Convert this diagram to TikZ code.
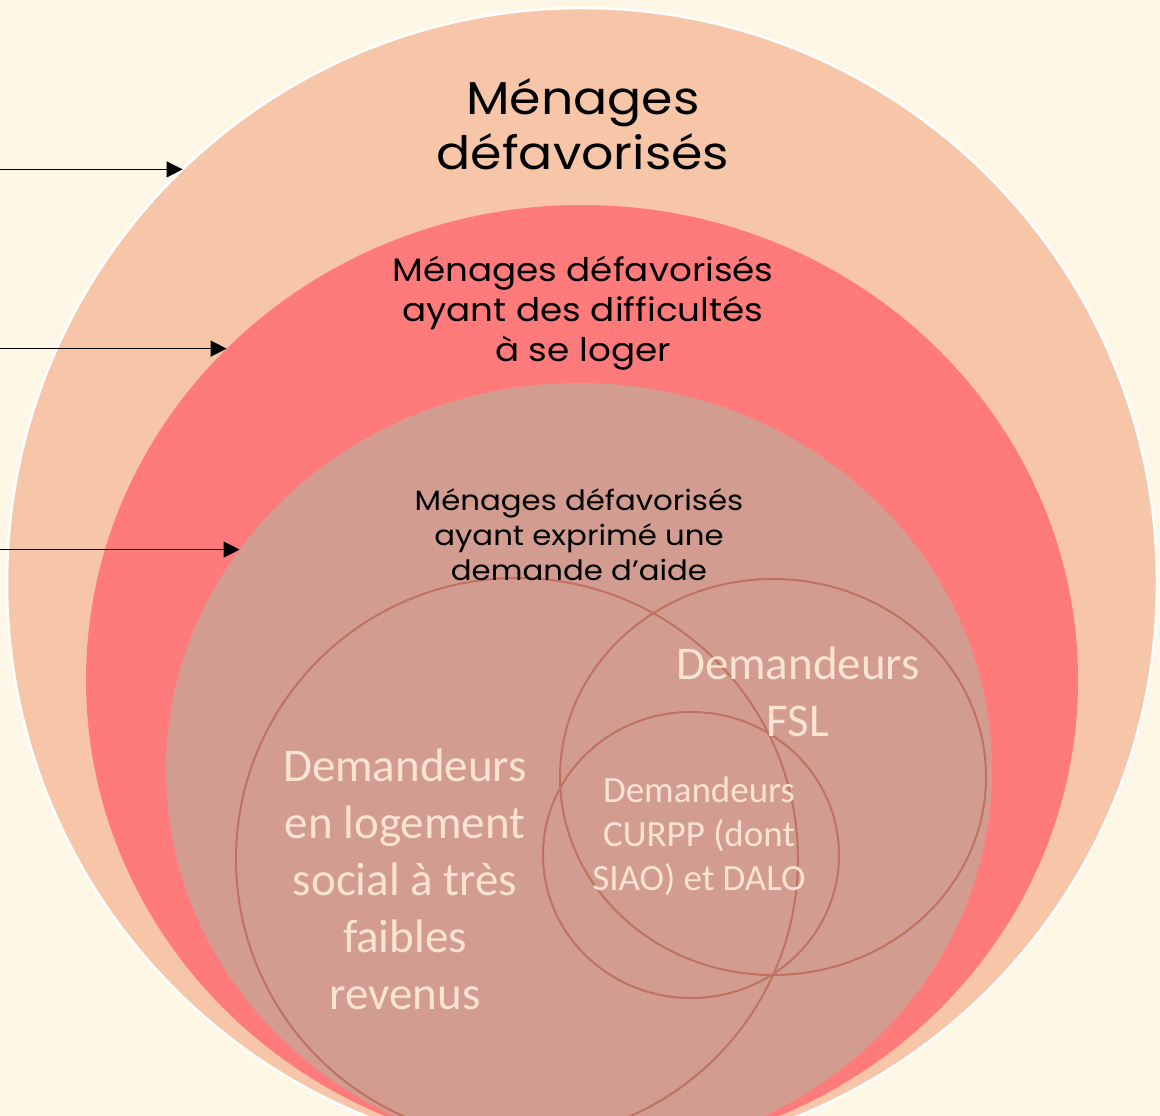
\documentclass[tikz,border=0pt]{standalone}
\usepackage{fontspec}
\setmainfont{Poppins}[FakeStretch=1.1]
\newfontfamily\calib{Carlito}
\usetikzlibrary{shapes.geometric,arrows.meta}

\definecolor{creme}{HTML}{FEF7E6}
\definecolor{peche}{HTML}{F7C6A8}
\definecolor{corail}{HTML}{FF7A7A}
\definecolor{vieuxrose}{HTML}{D29C90}
\definecolor{brique}{HTML}{C07262}
\definecolor{clair}{HTML}{FBE3D4}

\tikzset{
  zone/.style={ellipse, inner sep=0pt, outer sep=0pt},
  cercle/.style={ellipse, draw=brique, line width=2pt, inner sep=0pt, outer sep=0pt},
  titre/.style={align=center, text=black},
  pale/.style={align=center, text=clair},
}

\begin{document}
\begin{tikzpicture}[x=1pt, y=-1pt, >={Triangle[length=16pt,width=16pt]}]
    \fill [creme] (0,0) rectangle (1160,1116);
    \useasboundingbox (0,0) rectangle (1160,1116);
    \begin{scope}
    \clip (0,0) rectangle (1160,1116);

    % Ensembles emboites
    \node [zone, fill=peche, draw=white, line width=2.5pt,
           minimum width=1150pt, minimum height=1150pt]  (mdef)  at (582,583)  {};
    \node [zone, fill=corail,
           minimum width=992pt, minimum height=950pt]    (mlog)  at (582,680)  {};
    \node [zone, fill=vieuxrose,
           minimum width=826pt, minimum height=774pt]    (maide) at (579,770)  {};

    % Demandeurs
    \node [cercle, minimum width=562pt, minimum height=562pt] (cls)   at (517,859) {};
    \node [cercle, minimum width=426pt, minimum height=396pt] (cfsl)  at (773,777) {};
    \node [cercle, minimum width=296pt, minimum height=286pt] (ccurpp) at (691,855) {};
    \end{scope}

    % Textes
    \node [titre, font=\fontsize{46}{55}\selectfont] (tdef)  at (583,124)
        {Ménages\\défavorisés};
    \node [titre, font=\fontsize{32.5}{40}\selectfont] (tlog)  at (583,313)
        {Ménages défavorisés\\ayant des difficultés\\à se loger};
    \node [titre, font=\fontsize{28}{35}\selectfont] (taide) at (579,535)
        {Ménages défavorisés\\ayant exprimé une\\demande d’aide};
    \node [pale, font=\calib\fontsize{47}{57}\selectfont] (tfsl) at (798,692)
        {Demandeurs\\FSL};
    \node [pale, font=\calib\fontsize{47}{57}\selectfont] (tls)  at (405,879)
        {Demandeurs\\en logement\\social à très\\faibles\\revenus};
    \node [pale, font=\calib\fontsize{37}{44}\selectfont] (tcurpp) at (699,836)
        {Demandeurs\\CURPP (dont\\SIAO) et DALO};

    % Fleches
    \coordinate (f1) at (mdef.134 -| 0,0);
    \coordinate (f2) at (mlog.137 -| 0,0);
    \coordinate (f3) at (maide.147 -| 0,0);
    \draw [->, line width=1.3pt] (f1) -- (mdef.134);
    \draw [->, line width=1.3pt] (f2) -- (mlog.137);
    \draw [->, line width=1.3pt] (f3) -- (maide.147);
\end{tikzpicture}
\end{document}
